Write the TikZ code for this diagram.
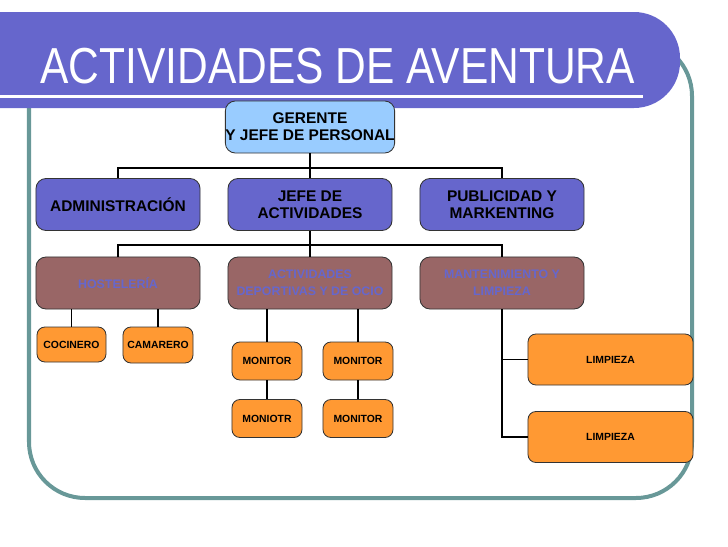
\documentclass[tikz,border=0pt]{standalone}
\usepackage{fontspec}
\setmainfont{Liberation Sans}
\newfontfamily\titlefont[FakeStretch=0.84]{Liberation Sans}
\usepackage{tikz}

\definecolor{bannerblue}{RGB}{102,102,204}
\definecolor{frameteal}{RGB}{104,152,152}
\definecolor{gerblue}{RGB}{153,204,255}
\definecolor{brownbox}{RGB}{153,102,102}
\definecolor{orangebox}{RGB}{255,153,51}

\begin{document}
\begin{tikzpicture}[
  x=0.025cm, y=-0.025cm,
  box/.style={draw=black!80, line width=0.6pt, rounded corners=0.25cm,
              align=center, inner sep=0pt, minimum width=4.1cm, minimum height=1.3cm},
  topbox/.style={box, fill=gerblue, font=\fontsize{11}{12}\selectfont\bfseries},
  areabox/.style={box, fill=bannerblue, font=\fontsize{11}{12}\selectfont\bfseries},
  secbox/.style={box, fill=brownbox, text=bannerblue,
                 font=\fontsize{8.8}{12}\selectfont\bfseries},
  jobbox/.style={box, fill=orangebox, rounded corners=0.2cm,
                 minimum width=1.75cm, minimum height=0.9cm,
                 font=\fontsize{7.4}{9}\selectfont\bfseries},
  conn/.style={line width=1.4pt, black}
]
\useasboundingbox (0,0) rectangle (728,546);

% Frame and title banner
\draw[frameteal, line width=0.1cm, rounded corners=1.4cm] (29,40) rectangle (692,498);
\fill[bannerblue] (0,12) [rounded corners=1.15cm] -- (680,12) -- (680,108)
  [sharp corners] -- (0,108) -- cycle;
\draw[white, line width=0.075cm] (0,96) -- (643,96);
\node[anchor=base west, inner sep=0pt, text=white,
      font=\titlefont\fontsize{36}{42}\selectfont] (title) at (40,83)
  {ACTIVIDADES DE AVENTURA};

% Top and second level
\node[topbox, minimum width=4.125cm] at (310,127) (ger) {GERENTE\\Y JEFE DE PERSONAL};
\node[areabox] at (118,204.5) (adm)  {ADMINISTRACIÓN};
\node[areabox] at (310,204.5) (jefe) {JEFE DE\\ACTIVIDADES};
\node[areabox] at (502,204.5) (pub)  {PUBLICIDAD Y\\MARKENTING};

% Sections
\node[secbox] at (118,283) (host) {HOSTELERÍA};
\node[secbox] at (310,283) (depo) {ACTIVIDADES\\DEPORTIVAS Y DE OCIO};
\node[secbox] at (502,283) (mant) {MANTENIMIENTO Y\\LIMPIEZA};

% Staff
\node[jobbox, minimum width=1.725cm, minimum height=0.875cm] at (71.5,344.5) (coc) {COCINERO};
\node[jobbox] at (158,345) (cam) {CAMARERO};
\node[jobbox, minimum height=0.95cm] at (267,361)   (mon1) {MONITOR};
\node[jobbox, minimum height=0.95cm] at (358,361)   (mon2) {MONITOR};
\node[jobbox, minimum height=0.95cm] at (267,418.5) (mon3) {MONIOTR};
\node[jobbox, minimum height=0.95cm] at (358,418.5) (mon4) {MONITOR};
\node[jobbox, minimum width=4.125cm, minimum height=1.275cm] at (610.5,359.5) (limp1) {LIMPIEZA};
\node[jobbox, minimum width=4.125cm, minimum height=1.275cm] at (610.5,437)   (limp2) {LIMPIEZA};

% Connectors
\draw[conn] (ger.south) -- (jefe.north);
\draw[conn] (ger.south) -- ++(0,15) -| (adm.north);
\draw[conn] (ger.south) -- ++(0,15) -| (pub.north);
\draw[conn] (jefe.south) -- (depo.north);
\draw[conn] (jefe.south) -- ++(0,14) -| (host.north);
\draw[conn] (jefe.south) -- ++(0,14) -| (mant.north);
\draw[conn] (coc.north) -- (coc.north |- host.south);
\draw[conn] (cam.north) -- (cam.north |- host.south);
\draw[conn] (mon1.north) -- (mon1.north |- depo.south);
\draw[conn] (mon2.north) -- (mon2.north |- depo.south);
\draw[conn] (mon1.south) -- (mon3.north);
\draw[conn] (mon2.south) -- (mon4.north);
\draw[conn] (mant.south) |- (limp1.west);
\draw[conn] (mant.south) |- (limp2.west);

\end{tikzpicture}
\end{document}
